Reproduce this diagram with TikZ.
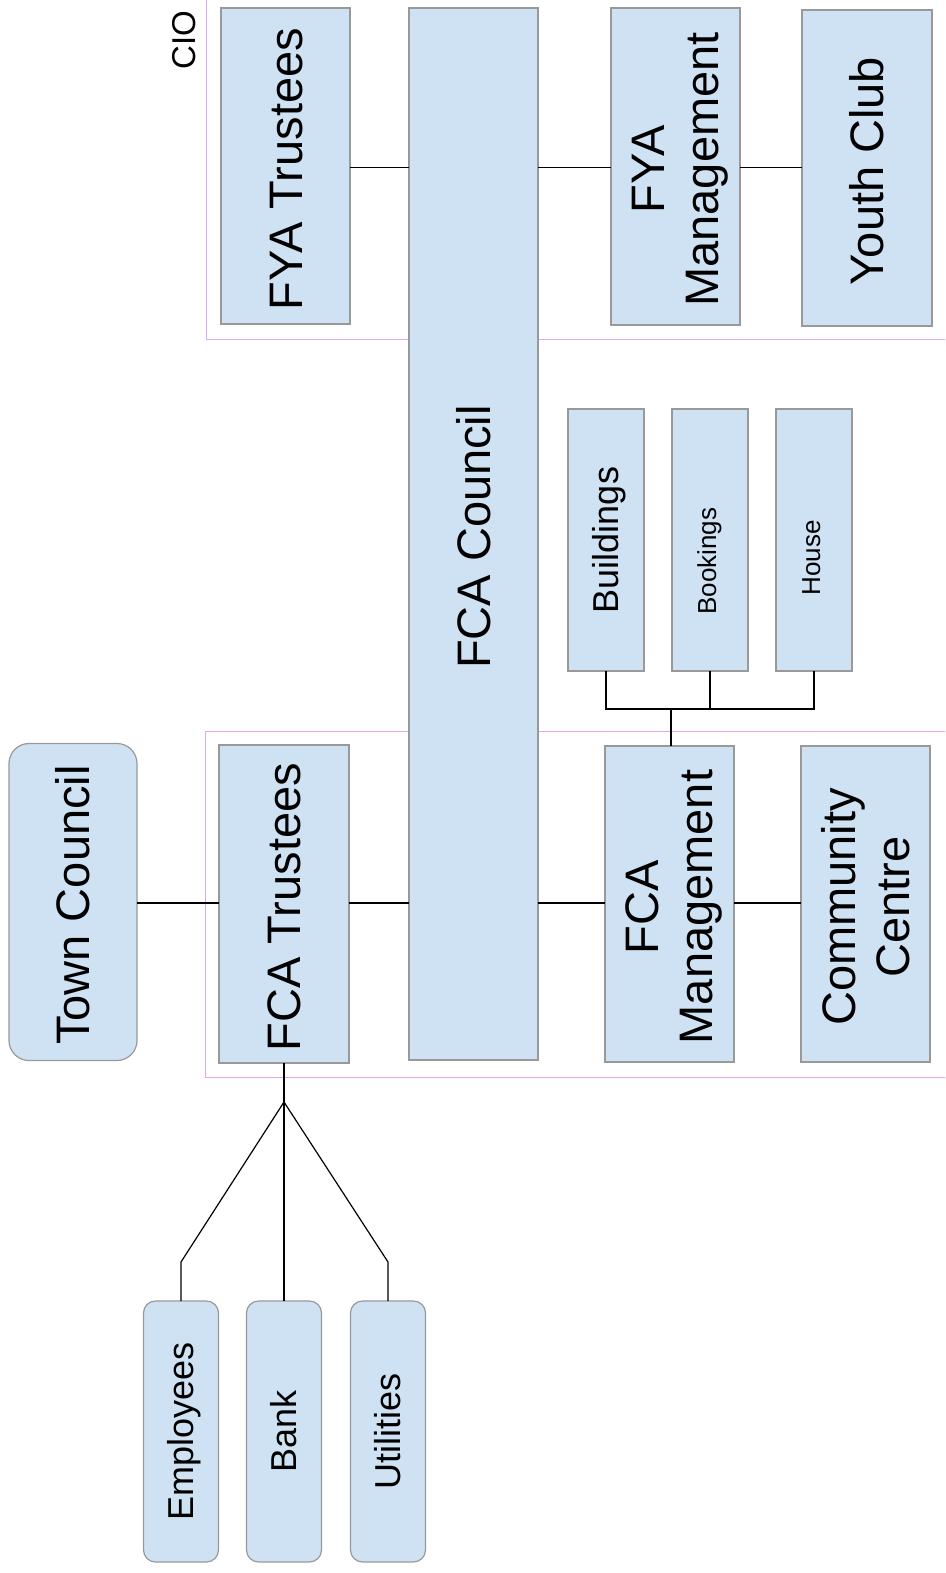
\documentclass[tikz,border=0pt]{standalone}
\usepackage{fontspec}
\setmainfont{Liberation Sans}
\definecolor{boxfill}{HTML}{CFE2F3}
\definecolor{boxline}{HTML}{999999}
\definecolor{frameline}{HTML}{D9A8F8}
\newcommand{\bigf}{\fontsize{47}{54}\selectfont}
\newcommand{\midf}{\fontsize{36}{42}\selectfont}
\newcommand{\smallf}{\fontsize{26}{30}\selectfont}
% #1 space left (shifts right by half), #2 trailing space (shifts down by half)
\newcommand{\rot}[3]{\hspace*{#1}\rotatebox{90}{\begin{tabular}{@{}c@{\hspace*{#2}}}#3\end{tabular}}}
\tikzset{
  box/.style={draw=boxline, line width=1.2pt, fill=boxfill, inner sep=0pt, outer sep=0pt},
  rbox/.style={box, rounded corners=20pt},
  sbox/.style={box, rounded corners=12pt},
  conn/.style={draw=black, line width=1.2pt},
  frame/.style={draw=frameline, line width=0.8pt},
}
\begin{document}
\begin{tikzpicture}[x=1pt,y=-1pt]
\useasboundingbox (0,0) rectangle (945,1573);
\clip (0,0) rectangle (945,1573);
\fill[white] (0,0) rectangle (945,1573);
% frames
\draw[frame] (206,-10) rectangle (960,339);
\draw[frame] (205,731) rectangle (960,1077);
\node (cio) at (184,40) {\rotatebox{90}{\fontsize{33}{38}\selectfont CIO}};
% top row
\node[box, minimum width=129pt, minimum height=316pt] (fyat) at (285.5,166) {\bigf\rot{12pt}{6pt}{FYA Trustees}};
\node[box, minimum width=129pt, minimum height=1052pt] (fcac) at (473.5,534) {\bigf\rot{12pt}{6pt}{FCA Council}};
\node[box, minimum width=129pt, minimum height=317pt] (fyam) at (675.5,166.5) {\bigf\rot{11pt}{6pt}{FYA\\Management}};
\node[box, minimum width=130pt, minimum height=316pt] (youth) at (867,168) {\bigf\rot{12pt}{6pt}{Youth Club}};
% middle
\node[box, minimum width=76pt, minimum height=262pt] (build) at (606,540) {\midf\rot{9pt}{0pt}{Buildings}};
\node[box, minimum width=76pt, minimum height=262pt] (book) at (710,540) {\smallf\rot{0pt}{42pt}{Bookings}};
\node[box, minimum width=76pt, minimum height=262pt] (house) at (814,540) {\smallf\rot{0pt}{36pt}{House}};
% bottom row
\node[rbox, minimum width=128pt, minimum height=317pt] (town) at (73,902) {\bigf\rot{12pt}{6pt}{Town Council}};
\node[box, minimum width=130pt, minimum height=318pt] (fcat) at (284,904) {\bigf\rot{12pt}{6pt}{FCA Trustees}};
\node[box, minimum width=129pt, minimum height=316pt] (fcam) at (669.5,904) {\bigf\rot{11pt}{6pt}{FCA\\Management}};
\node[box, minimum width=129pt, minimum height=316pt] (cc) at (865.5,904) {\bigf\rot{12pt}{6pt}{Community\\Centre}};
% leaves
\node[sbox, minimum width=75pt, minimum height=261pt] (emp) at (181,1431.5) {\midf\rot{8pt}{0pt}{Employees}};
\node[sbox, minimum width=75pt, minimum height=261pt] (bank) at (284,1431.5) {\midf\rot{8pt}{0pt}{Bank}};
\node[sbox, minimum width=75pt, minimum height=261pt] (util) at (388,1431.5) {\midf\rot{8pt}{0pt}{Utilities}};
% connectors top row
\draw[conn] (fyat.east |- 0,167.5) -- (fcac.west |- 0,167.5);
\draw[conn] (fcac.east |- 0,167.5) -- (fyam.west |- 0,167.5);
\draw[conn] (fyam.east |- 0,167.5) -- (youth.west |- 0,167.5);
% connectors bottom row
\draw[conn] (town.east |- 0,903) -- (fcat.west |- 0,903);
\draw[conn] (fcat.east |- 0,903) -- (fcac.west |- 0,903);
\draw[conn] (fcac.east |- 0,903) -- (fcam.west |- 0,903);
\draw[conn] (fcam.east |- 0,903) -- (cc.west |- 0,903);
% tree to management
\coordinate (tj) at (671,709);
\draw[conn] (build.south) -- (build.south |- tj) -- (house.south |- tj) -- (house.south);
\draw[conn] (book.south) -- (book.south |- tj);
\draw[conn] (tj) -- (tj |- fcam.north);
% fan to leaves
\coordinate (fj) at (284,1102);
\draw[conn] (fcat.south) -- (fj);
\draw[conn] (fj) -- (181,1262) -- (emp.north);
\draw[conn] (fj) -- (bank.north);
\draw[conn] (fj) -- (388,1262) -- (util.north);
\end{tikzpicture}
\end{document}
